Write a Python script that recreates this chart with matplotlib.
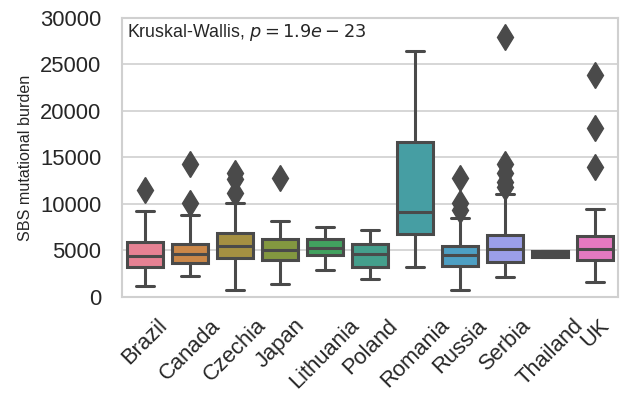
import matplotlib
matplotlib.use("Agg")
import matplotlib.pyplot as plt
import seaborn as sns

countries = ["Brazil", "Canada", "Czechia", "Japan", "Lithuania", "Poland",
             "Romania", "Russia", "Serbia", "Thailand", "UK"]
whislo = [1130, 2250, 700, 1350, 2930, 1960, 3210, 700, 2140, 4290, 1600]
q1     = [3220, 3650, 4190, 3940, 4480, 3220, 6820, 3320, 3760, 4290, 3940]
median = [4370, 4580, 5480, 5090, 5300, 4580, 9150, 4480, 5200, 4580, 5200]
q3     = [5910, 5740, 6880, 6200, 6200, 5740, 16700, 5450, 6630, 4940, 6560]
whishi = [9260, 8790, 10120, 8180, 7530, 7170, 26480, 8440, 11020, 4940, 9440]
fliers = [
    [11500],
    [14300, 10100],
    [13350, 12700, 11130],
    [12750],
    [],
    [],
    [],
    [12750, 10050, 9330],
    [27960, 14290, 13290, 12380, 11850],
    [],
    [23820, 18140, 14000],
]
annotation = "Kruskal-Wallis, $p = 1.9e-23$"
ylabel = "SBS mutational burden"

sns.set_style("whitegrid")
plt.rcParams["font.family"] = ["Liberation Sans", "DejaVu Sans"]

fig = plt.figure(figsize=(6.21, 3.96), dpi=100)
ax = fig.add_axes([0.197, 0.25, 0.798, 0.705])

palette = sns.color_palette("husl", len(countries))
palette = [sns.desaturate(c, 0.75) for c in palette]
line_color = "#4a4a4a"

stats = []
for i, c in enumerate(countries):
    stats.append(dict(label=c, med=median[i], q1=q1[i], q3=q3[i],
                      whislo=whislo[i], whishi=whishi[i], fliers=fliers[i]))

lw = 2.2
bp = ax.bxp(stats, positions=range(len(countries)), widths=0.8,
            patch_artist=True, showfliers=True,
            boxprops=dict(edgecolor=line_color, linewidth=lw),
            whiskerprops=dict(color=line_color, linewidth=lw),
            capprops=dict(color=line_color, linewidth=lw),
            medianprops=dict(color=line_color, linewidth=lw),
            flierprops=dict(marker="d", markersize=13, markerfacecolor=line_color,
                            markeredgecolor=line_color, linestyle="none"))
for patch, col in zip(bp["boxes"], palette):
    patch.set_facecolor(col)

ax.set_xlim(-0.5, len(countries) - 0.5)
ax.set_ylim(0, 30000)
ax.set_yticks(range(0, 30001, 5000))
ax.set_xticks(range(len(countries)))
ax.set_xticklabels(countries, rotation=45, ha="center")
ax.tick_params(axis="y", labelsize=15.8, length=0, pad=15)
ax.tick_params(axis="x", labelsize=15.8, length=0, pad=13)
ax.set_ylabel(ylabel, fontsize=11.6, labelpad=5)
ax.grid(axis="x", visible=False)
ax.grid(axis="y", color="#d0d0d0", linewidth=1.2)
for s in ax.spines.values():
    s.set_color("#d0d0d0")
    s.set_linewidth(1.5)
ax.text(0.01, 0.985, annotation, transform=ax.transAxes, ha="left", va="top",
        fontsize=12.8, color="#262626")

fig.savefig("out.png", dpi=100)
